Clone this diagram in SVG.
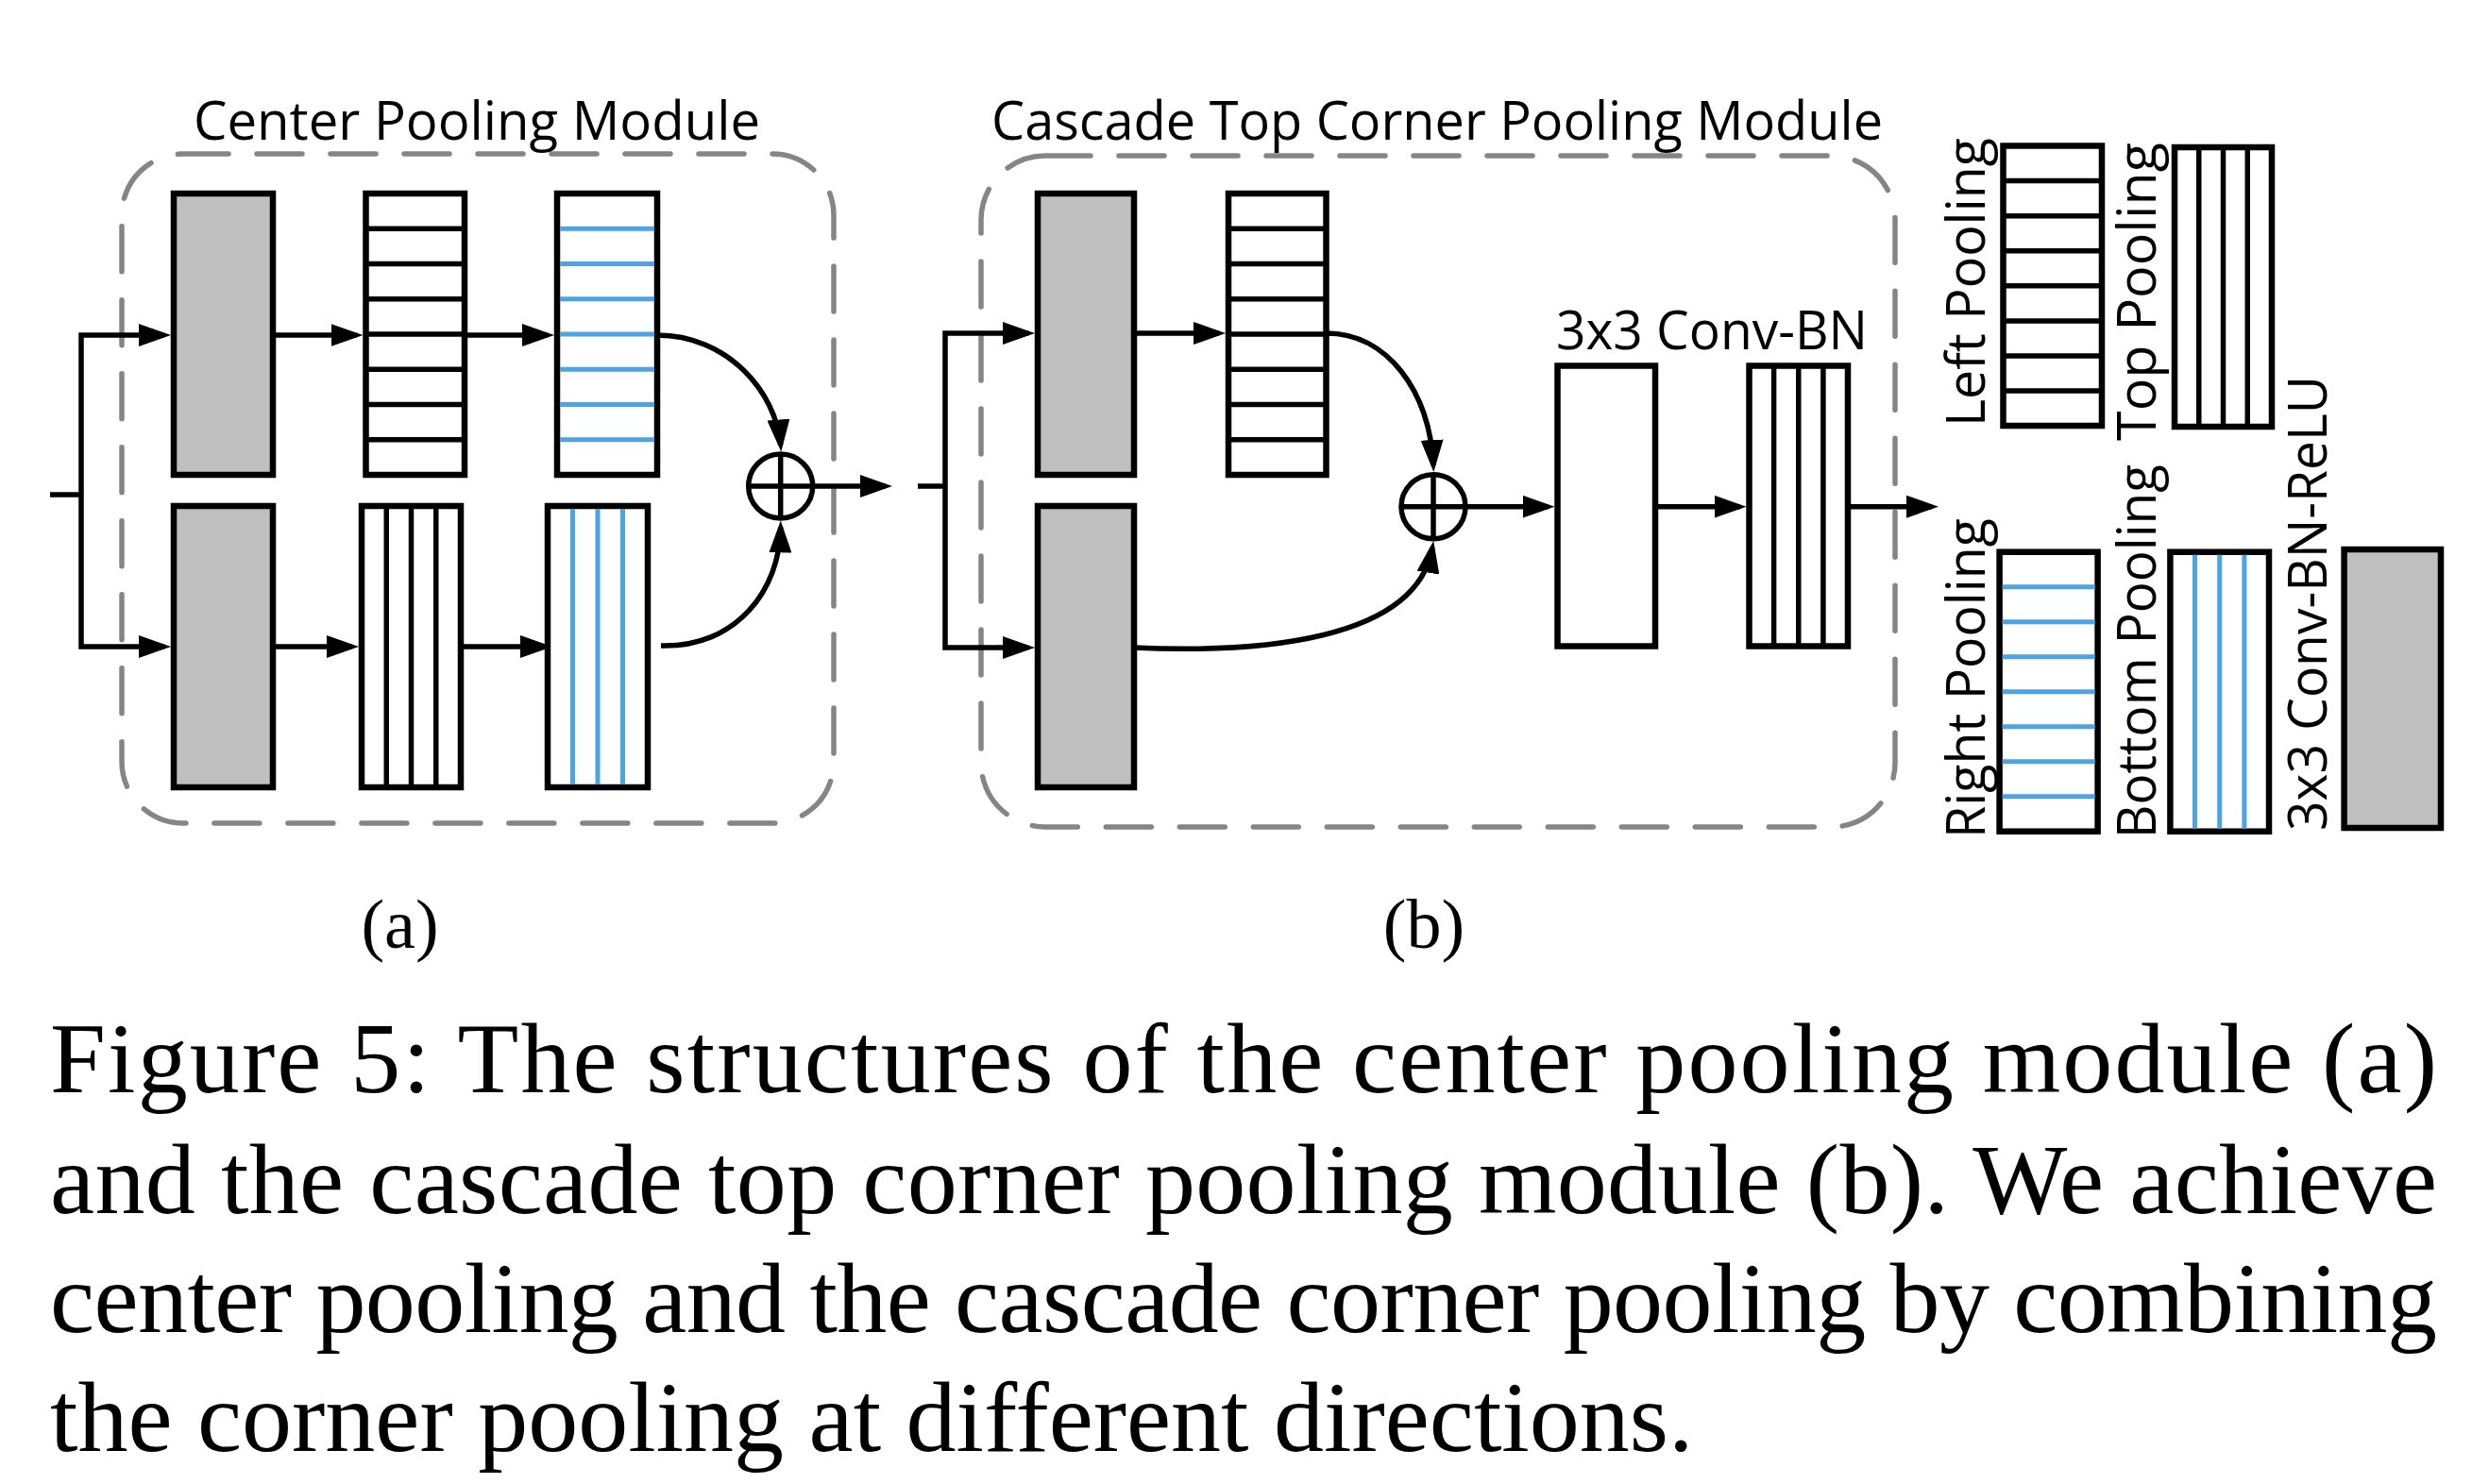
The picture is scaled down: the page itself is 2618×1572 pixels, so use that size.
<svg xmlns="http://www.w3.org/2000/svg" width="2618" height="1572" viewBox="0 0 2618 1572">
<defs>
<marker id="arr" markerUnits="userSpaceOnUse" markerWidth="34" markerHeight="24" viewBox="0 0 34 24" refX="27" refY="12" orient="auto-start-reverse"><path d="M0,0 L34,12 L0,24 Z" fill="#000"/></marker>
</defs>
<style>
.frame{fill:none;stroke:#858585;stroke-width:5.5;stroke-dasharray:48 30;stroke-linecap:round}
.box{stroke:#000;stroke-width:6.5;fill:#fff}
.grey{fill:#bfbfbf}
.bl{stroke:#000;stroke-width:5.5}
.blue{stroke:#4da3e3;stroke-width:5}
.conn{fill:none;stroke:#000;stroke-width:5.5}
.sum{fill:none;stroke:#000;stroke-width:5.5}
.lbl{font-family:"Open Sans","Liberation Sans",sans-serif;font-size:56px;fill:#000}
.cap{font-family:"Liberation Serif","Times New Roman",serif;font-size:106px;fill:#000}
.sub{font-family:"Liberation Serif","Times New Roman",serif;font-size:74px;fill:#000}
</style>
<rect width="2618" height="1572" fill="#fff"/>

<g id="frameA"><rect class="frame" x="129" y="163" width="754" height="709" rx="65"/>
<text class="lbl" x="205" y="148" textLength="600" lengthAdjust="spacingAndGlyphs">Center Pooling Module</text></g>
<g id="frameB"><rect class="frame" x="1039" y="165" width="968" height="711" rx="68"/>
<text class="lbl" x="1050" y="148" textLength="944" lengthAdjust="spacingAndGlyphs">Cascade Top Corner Pooling Module</text></g>

<g id="connectors">
<path class="conn" d="M53 524 H86"/>
<path class="conn" d="M174 355 H86 V685 H174" marker-start="url(#arr)" marker-end="url(#arr)"/>
<path class="conn" d="M289 355 H377.5" marker-end="url(#arr)"/>
<path class="conn" d="M492 355 H580" marker-end="url(#arr)"/>
<path class="conn" d="M289 685 H373" marker-end="url(#arr)"/>
<path class="conn" d="M488 685 H578" marker-end="url(#arr)"/>
<path class="conn" d="M696 355 C770 355 822 415 826.7 471.5" marker-end="url(#arr)"/>
<path class="conn" d="M700 684 C780 686 826 625 826.7 558.5" marker-end="url(#arr)"/>
<path class="conn" d="M861 515 H938" marker-end="url(#arr)"/>
<path class="conn" d="M972 515 H1001"/>
<path class="conn" d="M1089 353 H1001 V686 H1089" marker-start="url(#arr)" marker-end="url(#arr)"/>
<path class="conn" d="M1200 353 H1291" marker-end="url(#arr)"/>
<path class="conn" d="M1404.5 353 C1470 353 1514 415 1518 493" marker-end="url(#arr)"/>
<path class="conn" d="M1200 686 C1330 692 1500 680 1517 580" marker-end="url(#arr)"/>
<path class="conn" d="M1552 536.7 H1639.5" marker-end="url(#arr)"/>
<path class="conn" d="M1753 536.7 H1842.5" marker-end="url(#arr)"/>
<path class="conn" d="M1957 536.7 H2046" marker-end="url(#arr)"/>
</g>

<g id="A1"><rect class="box grey" x="184" y="205" width="105" height="298"/></g>
<g id="A2"><rect class="box" x="387.5" y="205" width="104.5" height="298"/>
<path class="bl" d="M387.5 242.25H492M387.5 279.5H492M387.5 316.75H492M387.5 354H492M387.5 391.25H492M387.5 428.5H492M387.5 465.75H492"/></g>
<g id="A3"><rect class="box" x="590" y="205" width="106" height="298"/>
<path class="blue" d="M593 242.25H693M593 279.5H693M593 316.75H693M593 354H693M593 391.25H693M593 428.5H693M593 465.75H693"/></g>
<g id="A4"><rect class="box grey" x="184" y="536" width="105" height="298"/></g>
<g id="A5"><rect class="box" x="383" y="536" width="105" height="298"/>
<path class="bl" d="M409.25 536V834M435.5 536V834M461.75 536V834"/></g>
<g id="A6"><rect class="box" x="580" y="536" width="106" height="298"/>
<path class="blue" d="M606.5 539V831M633 539V831M659.5 539V831"/></g>
<g id="sumA"><circle class="sum" cx="826.7" cy="515" r="34"/><path class="sum" d="M792.7 515H860.7M826.7 481V549"/></g>

<g id="B1"><rect class="box grey" x="1099" y="205" width="102" height="298"/></g>
<g id="B2"><rect class="box grey" x="1099" y="536" width="102" height="298"/></g>
<g id="B3"><rect class="box" x="1301" y="205" width="103.5" height="298"/>
<path class="bl" d="M1301 242.25H1404.5M1301 279.5H1404.5M1301 316.75H1404.5M1301 354H1404.5M1301 391.25H1404.5M1301 428.5H1404.5M1301 465.75H1404.5"/></g>
<g id="sumB"><circle class="sum" cx="1518" cy="536.7" r="34"/><path class="sum" d="M1484 536.7H1552M1518 502.7V570.7"/></g>
<g id="B4"><rect class="box" x="1649.5" y="387.5" width="103.5" height="297"/>
<text class="lbl" x="1648" y="370" textLength="330" lengthAdjust="spacingAndGlyphs">3x3 Conv-BN</text></g>
<g id="B5"><rect class="box" x="1852.5" y="387.5" width="104.5" height="297"/>
<path class="bl" d="M1878.6 387.5V684.5M1904.75 387.5V684.5M1930.9 387.5V684.5"/></g>

<g id="legendLeft"><rect class="box" x="2121.5" y="154.5" width="104.5" height="296.5"/>
<path class="bl" d="M2121.5 191.6H2226M2121.5 228.7H2226M2121.5 265.8H2226M2121.5 302.8H2226M2121.5 339.9H2226M2121.5 377H2226M2121.5 414H2226"/>
<text class="lbl" transform="translate(2102 452) rotate(-90)" textLength="306" lengthAdjust="spacingAndGlyphs">Left Pooling</text></g>
<g id="legendTop"><rect class="box" x="2303" y="156" width="103" height="296"/>
<path class="bl" d="M2328.75 156V452M2354.5 156V452M2380.25 156V452"/>
<text class="lbl" transform="translate(2283 467) rotate(-90)" textLength="316" lengthAdjust="spacingAndGlyphs">Top Pooling</text></g>
<g id="legendRight"><rect class="box" x="2117.6" y="584.7" width="104" height="296"/>
<path class="blue" d="M2120.6 621.7H2218.6M2120.6 658.7H2218.6M2120.6 695.7H2218.6M2120.6 732.7H2218.6M2120.6 769.7H2218.6M2120.6 806.7H2218.6M2120.6 843.7H2218.6"/>
<text class="lbl" transform="translate(2102 888) rotate(-90)" textLength="339" lengthAdjust="spacingAndGlyphs">Right Pooling</text></g>
<g id="legendBottom"><rect class="box" x="2298.4" y="584.7" width="104.6" height="296"/>
<path class="blue" d="M2324.5 587.7V877.7M2350.7 587.7V877.7M2376.9 587.7V877.7"/>
<text class="lbl" transform="translate(2283 888) rotate(-90)" textLength="396" lengthAdjust="spacingAndGlyphs">Bottom Pooling</text></g>
<g id="legendConv"><rect class="box grey" x="2482.6" y="582" width="102.4" height="295"/>
<text class="lbl" transform="translate(2464 880) rotate(-90)" textLength="482" lengthAdjust="spacingAndGlyphs">3x3 Conv-BN-ReLU</text></g>

<g id="captions">
<text class="sub" x="423.5" y="1004" text-anchor="middle">(a)</text>
<text class="sub" x="1508" y="1004" text-anchor="middle">(b)</text>
<text class="cap" x="53" y="1157" textLength="2528" lengthAdjust="spacing">Figure 5:  The structures of the center pooling module (a)</text>
<text class="cap" x="53" y="1284.6" textLength="2528" lengthAdjust="spacing">and the cascade top corner pooling module (b). We achieve</text>
<text class="cap" x="53" y="1410.7" textLength="2528" lengthAdjust="spacing">center pooling and the cascade corner pooling by combining</text>
<text class="cap" x="53" y="1536.8">the corner pooling at different directions.</text>
</g>
</svg>
